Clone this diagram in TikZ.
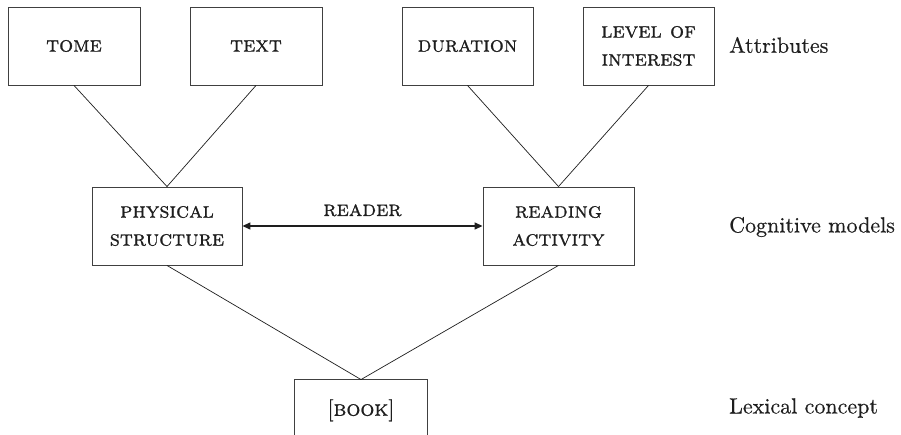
\documentclass[tikz,border=0pt]{standalone}
\usepackage{fontspec}
\usetikzlibrary{arrows.meta}
\newfontfamily\capsfont{lmromancaps10-regular.otf}[RawFeature={embolden=0.8}]
\newfontfamily\lblfont{lmroman10-regular.otf}[RawFeature={embolden=0.4}]
\definecolor{ink}{HTML}{1E1E1E}
\begin{document}
\begin{tikzpicture}[x=1pt,y=-1pt,
  box/.style={draw=ink!85, line width=0.9pt, inner sep=0pt, align=center,
    font=\fontsize{22}{28}\capsfont, text=ink},
  lbl/.style={anchor=west, inner sep=0pt, font=\fontsize{22}{26}\lblfont, text=ink},
  conn/.style={draw=ink, line width=0.7pt}]
\useasboundingbox (0,0) rectangle (901,435);
\fill[white] (0,0) rectangle (901,435);
\node[box, minimum width=132pt, minimum height=78pt] (tome) at (74,46) {tome};
\node[box, minimum width=132pt, minimum height=78pt] (text) at (256,46) {text};
\node[box, minimum width=131pt, minimum height=78pt] (dur) at (467.5,46) {duration};
\node[box, minimum width=131pt, minimum height=78pt] (lev) at (648.5,46) {level of\\interest};
\node[box, minimum width=150pt, minimum height=78pt] (phys) at (167,226) {physical\\structure};
\node[box, minimum width=151pt, minimum height=78pt] (read) at (558.5,226) {reading\\activity};
\node[box, draw=none, minimum width=132pt, minimum height=55pt, text depth=0pt] (book) at (361,407.5) {{\lblfont[}book{\lblfont]}};
\draw[draw=ink!85, line width=0.9pt] (book.south west) -- (book.north west) -- (book.north east) -- (book.south east);
\draw[conn] (tome.south) -- (phys.north);
\draw[conn] (text.south) -- (phys.north);
\draw[conn] (dur.south) -- (read.north);
\draw[conn] (lev.south) -- (read.north);
\draw[conn] (phys.south) -- (book.north);
\draw[conn] (read.south) -- (book.north);
\draw[draw=ink, line width=1.4pt, {Triangle[length=8pt,width=7pt]}-{Triangle[length=8pt,width=7pt]}] (phys.east) -- node[above=9pt, inner sep=0pt, font=\fontsize{22}{26}\capsfont, text=ink] (rdr) {reader} (read.east -| read.west);
\node[lbl] (attr) at (729,45) {Attributes};
\node[lbl] (cog) at (729,227) {Cognitive models};
\node[lbl] (lex) at (729,408) {Lexical concept};
\end{tikzpicture}
\end{document}
